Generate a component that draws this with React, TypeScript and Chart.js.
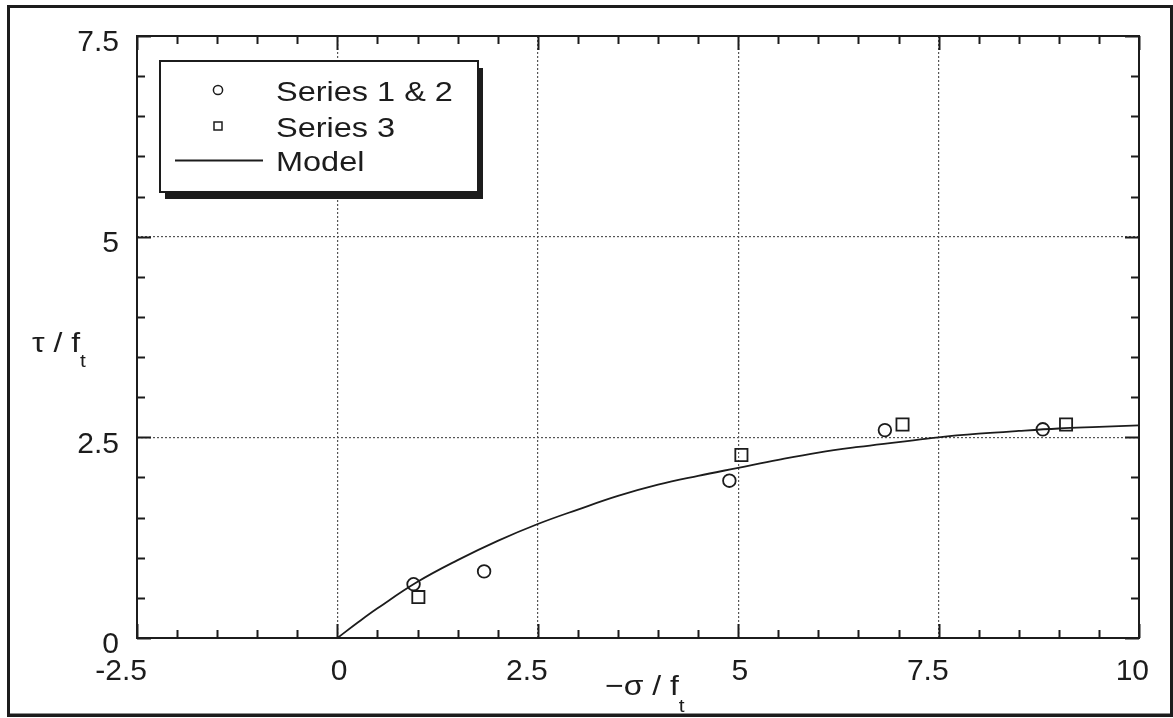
import React, { useEffect, useRef } from "react";
import { Chart, registerables } from "chart.js";

Chart.register(...registerables);

const CANVAS_W = 1173;
const CANVAS_H = 718;

// Measured points: normalised shear stress against normalised compression
const series12X = [0.95, 1.83, 4.89, 6.83, 8.8];
const series12Y = [0.67, 0.83, 1.96, 2.59, 2.6];
const series3X = [1.01, 5.04, 7.05, 9.09];
const series3Y = [0.51, 2.28, 2.66, 2.66];

// Model curve samples
const modelX = [0, 0.25, 0.5, 1, 1.5, 2, 2.5, 3, 3.5, 4, 4.5, 5, 5.5, 6, 6.5, 7, 7.5, 8, 8.5, 9, 9.5, 10];
const modelY = [0, 0.19, 0.37, 0.7, 0.97, 1.21, 1.42, 1.6, 1.77, 1.91, 2.02, 2.12, 2.22, 2.31, 2.38, 2.44, 2.5, 2.545, 2.58, 2.61, 2.63, 2.65];

const seriesLabels = ["Series 1 & 2", "Series 3", "Model"];

const xTicks = [-2.5, 0, 2.5, 5, 7.5, 10];
const xTickLabels = ["-2.5", "0", "2.5", "5", "7.5", "10"];
const yTicks = [0, 2.5, 5, 7.5];
const yTickLabels = ["0", "2.5", "5", "7.5"];
const minorStep = 0.5;
const majorStep = 2.5;

const INK = "#1c1c1c";
const GRID = "#555";
const FONT = "'Liberation Sans', Arial, Helvetica, sans-serif";

const toPoints = (xs: number[], ys: number[]) => xs.map((x, i) => ({ x, y: ys[i] }));

// Draws stretched text (the typeface on this figure runs slightly wide)
function wideText(ctx: CanvasRenderingContext2D, text: string, x: number, y: number, size: number, stretch: number) {
  ctx.save();
  ctx.font = `${size}px ${FONT}`;
  ctx.textAlign = "left";
  ctx.textBaseline = "alphabetic";
  ctx.translate(x, y);
  ctx.scale(stretch, 1);
  ctx.fillText(text, 0, 0);
  const w = ctx.measureText(text).width * stretch;
  ctx.restore();
  return w;
}

const isMajor = (v: number) => Math.abs(v / majorStep - Math.round(v / majorStep)) < 1e-6;

// Page frame, inward tick marks on all four sides, axis titles and the boxed legend
const decorPlugin = {
  id: "decor",
  beforeDraw(chart: any) {
    const ctx: CanvasRenderingContext2D = chart.ctx;
    ctx.save();
    ctx.fillStyle = "#fff";
    ctx.fillRect(0, 0, chart.width, chart.height);
    ctx.strokeStyle = INK;
    ctx.lineWidth = 3;
    ctx.strokeRect(8.5, 6.5, chart.width - 10, chart.height - 9.5);
    ctx.fillStyle = INK;
    ctx.fillRect(7, chart.height - 4, chart.width - 7, 3);
    ctx.restore();
  },
  afterDraw(chart: any) {
    const ctx: CanvasRenderingContext2D = chart.ctx;
    const { left, right, top, bottom } = chart.chartArea;
    const xs = chart.scales.x;
    const ys = chart.scales.y;

    ctx.save();
    ctx.strokeStyle = INK;
    ctx.lineWidth = 2;
    ctx.beginPath();
    for (let v = xs.min; v <= xs.max + 1e-9; v += minorStep) {
      const px = Math.round(xs.getPixelForValue(v)) + 0.5;
      const len = isMajor(v) ? 14 : 8;
      ctx.moveTo(px, bottom);
      ctx.lineTo(px, bottom - len);
      ctx.moveTo(px, top);
      ctx.lineTo(px, top + len);
    }
    for (let v = ys.min; v <= ys.max + 1e-9; v += minorStep) {
      const py = Math.round(ys.getPixelForValue(v)) + 0.5;
      const len = isMajor(v) ? 14 : 8;
      ctx.moveTo(left, py);
      ctx.lineTo(left + len, py);
      ctx.moveTo(right, py);
      ctx.lineTo(right - len, py);
    }
    ctx.stroke();
    ctx.strokeRect(left, top, right - left, bottom - top);

    // axis titles
    ctx.fillStyle = INK;
    const xt = left + 468;
    const xw = wideText(ctx, "\u2212\u03c3 / f", xt, bottom + 57, 28, 1.14);
    wideText(ctx, "t", xt + xw, bottom + 74, 19, 1.1);
    const yt = left - 105;
    const yw = wideText(ctx, "\u03c4 / f", yt, top + 316, 28, 1.14);
    wideText(ctx, "t", yt + yw, top + 331, 19, 1.1);

    // legend box with drop shadow
    const bx = left + 23;
    const by = top + 25;
    const bw = 318;
    const bh = 131;
    ctx.fillStyle = INK;
    ctx.fillRect(bx + 5, by + 7, bw, bh);
    ctx.fillStyle = "#fff";
    ctx.fillRect(bx, by, bw, bh);
    ctx.lineWidth = 2;
    ctx.strokeStyle = INK;
    ctx.strokeRect(bx, by, bw, bh);

    const baselines = [by + 40, by + 76, by + 110];
    chart.data.datasets.forEach((ds: any, i: number) => {
      const base = baselines[i];
      const my = base - 11;
      ctx.strokeStyle = INK;
      ctx.lineWidth = 1.5;
      if (ds.showLine) {
        ctx.lineWidth = 1.8;
        ctx.beginPath();
        ctx.moveTo(bx + 15, my + 0.5);
        ctx.lineTo(bx + 103, my + 0.5);
        ctx.stroke();
      } else if (ds.pointStyle === "rect") {
        ctx.strokeRect(bx + 54, my - 4, 8, 8);
      } else {
        ctx.beginPath();
        ctx.arc(bx + 58, my, 4.6, 0, Math.PI * 2);
        ctx.stroke();
      }
      ctx.fillStyle = INK;
      wideText(ctx, ds.label, bx + 116, base, 28, 1.16);
    });
    ctx.restore();
  },
};

export default function App() {
  const ref = useRef<HTMLCanvasElement>(null);

  useEffect(() => {
    document.body.style.margin = "0";
    document.body.style.overflow = "hidden";
    const edgeX = (c: any) =>
      c.tick && (c.tick.value === xTicks[0] || c.tick.value === xTicks[xTicks.length - 1]) ? "rgba(0,0,0,0)" : GRID;
    const edgeY = (c: any) =>
      c.tick && (c.tick.value === yTicks[0] || c.tick.value === yTicks[yTicks.length - 1]) ? "rgba(0,0,0,0)" : GRID;

    const chart = new Chart(ref.current as HTMLCanvasElement, {
      type: "scatter",
      data: {
        datasets: [
          {
            label: seriesLabels[0],
            data: toPoints(series12X, series12Y),
            showLine: false,
            pointStyle: "circle",
            pointRadius: 6.3,
            pointBorderWidth: 1.8,
            pointBorderColor: INK,
            pointBackgroundColor: "rgba(0,0,0,0)",
          },
          {
            label: seriesLabels[1],
            data: toPoints(series3X, series3Y),
            showLine: false,
            pointStyle: "rect",
            pointRadius: 8.6,
            pointBorderWidth: 1.8,
            pointBorderColor: INK,
            pointBackgroundColor: "rgba(0,0,0,0)",
          },
          {
            label: seriesLabels[2],
            data: toPoints(modelX, modelY),
            showLine: true,
            borderColor: INK,
            borderWidth: 1.8,
            pointRadius: 0,
            tension: 0.4,
            fill: false,
          },
        ],
      } as any,
      options: {
        responsive: false,
        animation: false,
        devicePixelRatio: 1,
        layout: { padding: { top: 32, right: 34, left: 0, bottom: 0 } },
        plugins: { legend: { display: false }, tooltip: { enabled: false } },
        scales: {
          x: {
            type: "linear",
            min: xTicks[0],
            max: xTicks[xTicks.length - 1],
            afterBuildTicks: (s: any) => {
              s.ticks = xTicks.map((value) => ({ value }));
            },
            afterFit: (s: any) => {
              s.height = 80;
            },
            ticks: {
              callback: (_v: any, i: number) => xTickLabels[i],
              font: { family: FONT, size: 30 },
              color: INK,
              align: "end",
              labelOffset: 10,
              padding: 16,
              maxRotation: 0,
              autoSkip: false,
            },
            grid: { color: edgeX, lineWidth: 1.2, drawTicks: false },
            border: { display: false, dash: [2, 2] },
          },
          y: {
            type: "linear",
            min: yTicks[0],
            max: yTicks[yTicks.length - 1],
            afterBuildTicks: (s: any) => {
              s.ticks = yTicks.map((value) => ({ value }));
            },
            afterFit: (s: any) => {
              s.width = 137;
            },
            ticks: {
              callback: (_v: any, i: number) => yTickLabels[i],
              font: { family: FONT, size: 30 },
              color: INK,
              labelOffset: 7,
              padding: 18,
              autoSkip: false,
            },
            grid: { color: edgeY, lineWidth: 1.2, drawTicks: false },
            border: { display: false, dash: [2, 2] },
          },
        },
      } as any,
      plugins: [decorPlugin],
    });
    return () => chart.destroy();
  }, []);

  return (
    <div style={{ width: CANVAS_W, height: CANVAS_H }}>
      <canvas ref={ref} width={CANVAS_W} height={CANVAS_H} style={{ display: "block" }} />
    </div>
  );
}
